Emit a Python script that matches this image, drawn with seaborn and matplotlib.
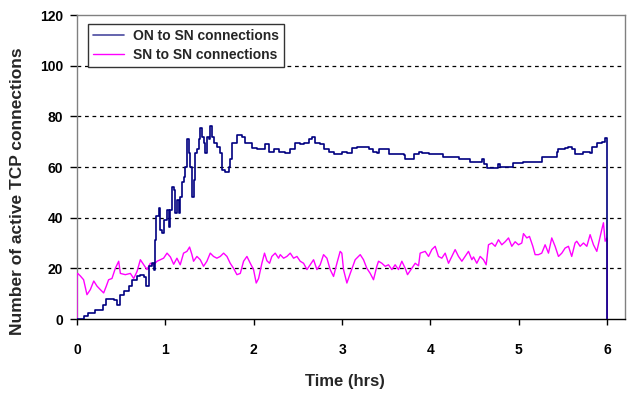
import matplotlib
matplotlib.use("Agg")
import matplotlib.pyplot as plt
import pandas as pd
import seaborn as sns
from matplotlib.lines import Line2D

# ON to SN connections (hrs, count)
on_time = [0.00, 0.05, 0.075, 0.12, 0.20, 0.30, 0.33, 0.415, 0.45, 0.49, 0.53, 0.585, 0.62, 0.68,
           0.717, 0.755, 0.785, 0.81, 0.85, 0.868, 0.887, 0.898, 0.925, 0.943, 0.962, 0.98, 1.02,
           1.038, 1.055, 1.074, 1.093, 1.112, 1.131, 1.15, 1.168, 1.187, 1.206, 1.225, 1.244,
           1.263, 1.281, 1.30, 1.319, 1.338, 1.357, 1.376, 1.395, 1.413, 1.432, 1.451, 1.47,
           1.489, 1.508, 1.527, 1.545, 1.583, 1.621, 1.64, 1.678, 1.715, 1.734, 1.753, 1.81,
           1.866, 1.904, 1.942, 1.979, 2.036, 2.092, 2.13, 2.168, 2.224, 2.281, 2.356, 2.413,
           2.47, 2.526, 2.564, 2.62, 2.658, 2.696, 2.752, 2.79, 2.847, 2.903, 2.997, 3.054,
           3.11, 3.167, 3.242, 3.299, 3.355, 3.393, 3.412, 3.506, 3.525, 3.695, 3.714, 3.808,
           3.865, 3.902, 3.978, 4.072, 4.147, 4.317, 4.449, 4.581, 4.60, 4.638, 4.769, 4.788,
           4.939, 5.052, 5.259, 5.429, 5.448, 5.523, 5.561, 5.598, 5.636, 5.731, 5.807, 5.825,
           5.882, 5.939, 5.976, 5.995, 6.00, 6.00]
on_count = [0, 0, 1, 2.4, 3.7, 5.7, 8, 7.6, 5.7, 9.6, 11, 13, 15.5, 17,
            17.5, 16.5, 13, 21, 22, 19.5, 31, 40.5, 44, 35, 34, 39, 43,
            36.5, 43, 52, 51, 42, 47, 42, 48, 54, 56, 60, 71,
            65.5, 60, 48, 55, 65.5, 67, 71, 75.4, 72, 69.5, 65.5, 72,
            71, 76, 72, 69.5, 68, 65.5, 59, 58, 60, 63, 69.5, 72.8,
            72, 69.5, 69.5, 67.5, 67, 67, 69, 66, 67, 66, 65.5, 67,
            69.5, 69, 69.5, 71, 72, 69.5, 69, 67, 66, 65, 66, 65.5,
            67.5, 68, 68, 67, 66, 65.5, 67, 67, 65, 64.6, 63, 65.3,
            66, 65.5, 65.3, 65, 64, 63, 62, 63, 61, 59.6, 61, 60,
            61.6, 62, 64, 66, 67, 67.5, 68, 67, 65, 66, 65.5, 68,
            69.5, 70, 71.5, 70, 70, 0]

# SN to SN connections (hrs, count)
sn_time = [0.0, 0.0, 0.008, 0.038, 0.075, 0.113, 0.151, 0.19, 0.226, 0.264, 0.302, 0.332, 0.358,
           0.396, 0.434, 0.472, 0.491, 0.547, 0.604, 0.642, 0.68, 0.717, 0.755, 0.792, 0.83,
           0.868, 0.906, 0.943, 0.98, 1.019, 1.057, 1.094, 1.131, 1.168, 1.206, 1.244, 1.274,
           1.30, 1.319, 1.357, 1.395, 1.432, 1.47, 1.508, 1.545, 1.583, 1.621, 1.659, 1.697,
           1.734, 1.772, 1.81, 1.848, 1.885, 1.923, 1.961, 1.998, 2.028, 2.055, 2.092, 2.122,
           2.149, 2.179, 2.205, 2.243, 2.281, 2.30, 2.338, 2.375, 2.413, 2.451, 2.489, 2.526,
           2.564, 2.602, 2.639, 2.677, 2.715, 2.752, 2.79, 2.828, 2.865, 2.903, 2.941, 2.978,
           2.997, 3.016, 3.054, 3.092, 3.148, 3.205, 3.242, 3.28, 3.318, 3.355, 3.393, 3.412,
           3.45, 3.487, 3.525, 3.563, 3.60, 3.638, 3.676, 3.714, 3.74, 3.789, 3.827, 3.865,
           3.883, 3.94, 3.978, 4.015, 4.053, 4.09, 4.128, 4.166, 4.204, 4.241, 4.279, 4.317,
           4.355, 4.392, 4.43, 4.468, 4.487, 4.524, 4.562, 4.60, 4.63, 4.656, 4.694, 4.732,
           4.769, 4.807, 4.845, 4.883, 4.92, 4.958, 4.996, 5.033, 5.052, 5.09, 5.12, 5.158,
           5.184, 5.222, 5.259, 5.297, 5.335, 5.372, 5.41, 5.448, 5.486, 5.523, 5.561, 5.598,
           5.636, 5.655, 5.693, 5.731, 5.769, 5.806, 5.844, 5.882, 5.92, 5.938, 5.957, 5.976,
           5.995, 6.0, 6.0]
sn_count = [0, 17, 18, 17, 15.5, 9.6, 11.6, 15, 13, 11.6, 10.3, 13, 15.5,
            16, 20, 22.8, 18, 17.5, 18, 16, 18.8, 23.4, 21.4, 19.5, 22,
            21.4, 22.8, 23.4, 24, 26, 24.5, 21.6, 24, 21.4, 26, 26.7, 28.4,
            25.5, 22.8, 24.7, 23.4, 20.8, 22.8, 26, 24.7, 24, 24.7, 26, 24.7,
            22, 20, 17.5, 18, 22.8, 24.7, 22, 19.5, 14.2, 16, 22, 26,
            23, 22, 24.7, 26, 24, 25.4, 24, 24.7, 26, 24, 24.7, 22.8,
            22, 19.5, 21.4, 23.4, 19.5, 21.4, 25.4, 24, 19.5, 16.8, 22, 26.7,
            26, 19.5, 14.2, 18, 23.4, 25.4, 23.4, 20, 18, 15.5, 20.8, 22.8,
            22, 20.8, 21.4, 19.5, 21.4, 19.5, 22.8, 20, 17.5, 20, 22, 21,
            26, 26.7, 24.7, 27.4, 28.7, 24.7, 24, 26, 22, 24.7, 27.4, 24.7,
            22.8, 24.7, 26.7, 23.4, 24.5, 22, 24.7, 23.4, 21.4, 29.3, 30, 28.7,
            31.3, 29.3, 30.5, 32, 28.7, 30.5, 29.3, 30, 33.7, 32, 32.6, 28.7,
            25.4, 25.4, 26, 29.3, 26, 32, 28.7, 24.7, 26, 28, 28.7, 24.7,
            30, 30.7, 28.7, 30, 28.7, 33.3, 29.3, 26.7, 32.6, 35.3, 38, 30.7,
            32, 31, 0]

SERIES_NAMES = ["ON to SN connections", "SN to SN connections"]
X_TICKS = [0, 1, 2, 3, 4, 5, 6]
Y_TICKS = [0, 20, 40, 60, 80, 100, 120]

COLORS = {"ON to SN connections": "#000080", "SN to SN connections": "#FF00FF"}


def main():
    sns.set_theme(style="white")
    plt.rcParams["font.family"] = ["Liberation Sans", "DejaVu Sans"]
    plt.rcParams["font.weight"] = "bold"

    on_df = pd.DataFrame({"time": on_time, "count": on_count, "series": SERIES_NAMES[0]})
    sn_df = pd.DataFrame({"time": sn_time, "count": sn_count, "series": SERIES_NAMES[1]})

    fig = plt.figure(figsize=(6.32, 3.95), dpi=100)
    ax = fig.add_axes([0.1218, 0.1924, 0.867, 0.7696])

    for val in Y_TICKS[1:-1]:
        ax.axhline(val, color="black", linestyle=(0, (3, 3)), linewidth=0.9, zorder=1)

    sns.lineplot(data=sn_df, x="time", y="count", color=COLORS[SERIES_NAMES[1]],
                 estimator=None, sort=False, linewidth=1.0, ax=ax, zorder=3)
    sns.lineplot(data=on_df, x="time", y="count", color=COLORS[SERIES_NAMES[0]],
                 estimator=None, sort=False, linewidth=1.2, drawstyle="steps-post",
                 ax=ax, zorder=4)

    ax.set_xlim(0, 6.2)
    ax.set_ylim(0, 120)
    ax.set_xticks(X_TICKS)
    ax.set_yticks(Y_TICKS)
    ax.tick_params(axis="x", direction="out", length=4, width=1, pad=13,
                   labelsize=10, colors="black", bottom=True)
    ax.tick_params(axis="y", direction="out", length=5, width=1, pad=5,
                   labelsize=10, colors="black", left=True)
    for lbl in ax.get_xticklabels() + ax.get_yticklabels():
        lbl.set_fontweight("bold")

    for side in ["top", "right", "left"]:
        ax.spines[side].set_color("#808080")
        ax.spines[side].set_linewidth(1.0)
    ax.spines["bottom"].set_color("black")
    ax.spines["bottom"].set_linewidth(1.0)

    ax.set_xlabel("Time (hrs)", fontsize=12, fontweight="bold")
    ax.set_ylabel("Number of active TCP connections", fontsize=12.5, fontweight="bold")
    ax.xaxis.set_label_coords(0.489, -0.181)
    ax.yaxis.set_label_coords(-0.094, 0.42)

    handles = [Line2D([], [], color="#4a4aa0", linewidth=1.2),
               Line2D([], [], color=COLORS[SERIES_NAMES[1]], linewidth=1.0)]
    leg = ax.legend(handles, SERIES_NAMES, loc="upper left", bbox_to_anchor=(0.0195, 0.969),
                    borderaxespad=0, frameon=True, fancybox=False, shadow=False,
                    prop={"size": 10, "weight": "bold"}, handlelength=2.3,
                    handletextpad=0.6, borderpad=0.35, labelspacing=0.35)
    leg.get_frame().set_edgecolor("#333333")
    leg.get_frame().set_linewidth(1.0)
    leg.get_frame().set_alpha(1)

    fig.savefig("out.png", dpi=100)
    plt.close(fig)


if __name__ == "__main__":
    main()
